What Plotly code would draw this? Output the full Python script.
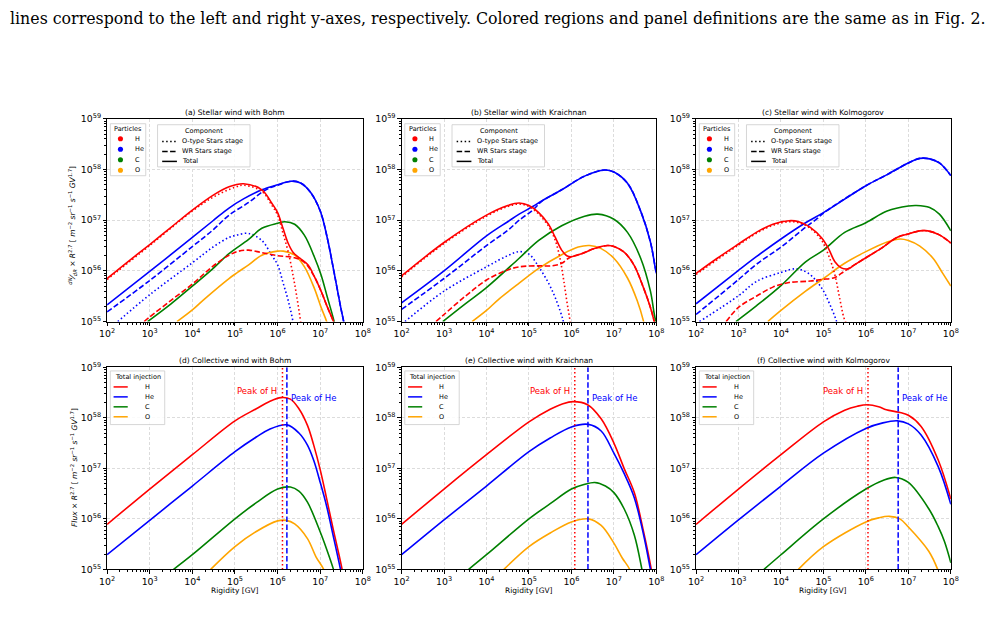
import numpy as np
import plotly.graph_objects as go

# ---------------- DATA (x: log10 Rigidity [GV], y: log10 of flux x R^2.7) ----------------
# (a) Stellar wind with Bohm
a_H_tot_x = [2, 2.5, 3, 3.5, 4, 4.5, 4.86, 5.2, 5.63, 5.86, 6.0, 6.13, 6.25, 6.36, 6.52, 6.71, 6.86, 7.02, 7.17, 7.31, 7.45]
a_H_tot_y = [55.85, 56.19, 56.52, 56.86, 57.2, 57.5, 57.66, 57.72, 57.6, 57.34, 57.15, 56.83, 56.54, 56.37, 56.25, 56.12, 55.89, 55.6, 55.28, 55.0, 54.6]
a_H_O_x = [2, 3, 4, 4.5, 5.0, 5.2, 5.63, 5.86, 6.0, 6.13, 6.25, 6.36, 6.44, 6.54, 6.65]
a_H_O_y = [55.83, 56.5, 57.18, 57.46, 57.65, 57.69, 57.57, 57.3, 57.1, 56.73, 56.37, 55.92, 55.54, 55.0, 54.3]
a_H_WR_x = [2.87, 3, 3.5, 4, 4.45, 4.86, 5.09, 5.32, 5.63, 6.0, 6.4, 6.63, 6.86, 7.02, 7.17, 7.31, 7.45]
a_H_WR_y = [55.0, 55.09, 55.42, 55.74, 56.07, 56.31, 56.39, 56.41, 56.36, 56.3, 56.26, 56.17, 55.89, 55.6, 55.28, 55.0, 54.6]
a_He_tot_x = [2, 3, 4, 4.5, 4.86, 5.2, 5.63, 6.0, 6.32, 6.55, 6.78, 7.0, 7.17, 7.32, 7.48, 7.55, 7.65]
a_He_tot_y = [55.33, 55.99, 56.66, 57.0, 57.24, 57.42, 57.6, 57.7, 57.77, 57.73, 57.54, 57.18, 56.63, 55.99, 55.28, 55.0, 54.5]
a_He_O_x = [2.25, 3, 4, 4.5, 4.86, 5.06, 5.32, 5.63, 5.86, 6.0, 6.13, 6.25, 6.36, 6.45]
a_He_O_y = [55.0, 55.53, 56.16, 56.48, 56.66, 56.71, 56.74, 56.6, 56.31, 56.12, 55.76, 55.41, 55.0, 54.5]
a_He_WR_x = [2, 3, 4, 4.5, 4.86, 5.32, 5.63, 5.85, 6.0, 6.32, 6.55, 6.78, 7.0, 7.17, 7.32, 7.48, 7.55, 7.65]
a_He_WR_y = [55.19, 55.81, 56.48, 56.82, 57.1, 57.35, 57.55, 57.65, 57.69, 57.77, 57.73, 57.54, 57.18, 56.63, 55.99, 55.28, 55.0, 54.5]
a_C_x = [2.95, 3.5, 4, 4.45, 4.86, 5.32, 5.63, 6.0, 6.17, 6.4, 6.63, 6.86, 7.02, 7.17, 7.32, 7.45]
a_C_y = [55.0, 55.35, 55.7, 56.02, 56.34, 56.62, 56.84, 56.94, 56.97, 56.92, 56.7, 56.28, 55.92, 55.47, 55.02, 54.5]
a_O_x = [3.64, 4.0, 4.29, 4.86, 5.06, 5.32, 5.63, 6.0, 6.13, 6.4, 6.63, 6.86, 7.02, 7.15, 7.3]
a_O_y = [55.0, 55.23, 55.45, 55.85, 55.97, 56.12, 56.31, 56.39, 56.39, 56.31, 56.08, 55.66, 55.28, 55.0, 54.5]

# (b) Stellar wind with Kraichnan
b_H_tot_x = [2, 3, 4, 4.5, 4.77, 5.0, 5.23, 5.46, 5.62, 5.77, 5.89, 6.0, 6.24, 6.54, 6.85, 7.0, 7.24, 7.47, 7.7, 7.86, 7.95, 8.0]
b_H_tot_y = [55.9, 56.56, 57.1, 57.29, 57.34, 57.29, 57.15, 56.92, 56.66, 56.41, 56.3, 56.28, 56.34, 56.44, 56.5, 56.48, 56.37, 56.12, 55.66, 55.28, 55.0, 54.8]
b_H_O_x = [2, 3, 4, 4.5, 4.77, 5.0, 5.23, 5.46, 5.62, 5.73, 5.81, 5.89, 5.97, 6.05]
b_H_O_y = [55.88, 56.54, 57.08, 57.27, 57.32, 57.27, 57.12, 56.88, 56.6, 56.25, 55.86, 55.41, 55.0, 54.5]
b_H_WR_x = [2.81, 3, 3.5, 4, 4.47, 4.77, 5.23, 5.54, 5.77, 5.93, 6.0, 6.24, 6.54, 6.85, 7.0, 7.24, 7.47, 7.7, 7.86, 7.95, 8.0]
b_H_WR_y = [55.0, 55.14, 55.5, 55.82, 56.01, 56.08, 56.1, 56.1, 56.15, 56.25, 56.28, 56.34, 56.44, 56.5, 56.48, 56.37, 56.12, 55.66, 55.28, 55.0, 54.8]
b_He_tot_x = [2, 3, 4, 4.5, 4.77, 5.09, 5.3, 5.77, 6.31, 6.78, 7.0, 7.32, 7.63, 7.86, 7.97, 8.0]
b_He_tot_y = [55.37, 56.0, 56.69, 56.97, 57.12, 57.27, 57.38, 57.6, 57.87, 57.99, 57.95, 57.73, 57.18, 56.57, 56.08, 55.95]
b_He_O_x = [2.08, 3, 4, 4.5, 4.77, 5.0, 5.23, 5.46, 5.62, 5.77, 5.81, 5.9]
b_He_O_y = [55.0, 55.6, 56.08, 56.3, 56.38, 56.33, 56.08, 55.76, 55.47, 55.12, 55.0, 54.6]
b_He_WR_x = [2, 3, 4, 4.5, 4.77, 5.09, 5.3, 5.77, 6.31, 6.78, 7.0, 7.32, 7.63, 7.86, 7.97, 8.0]
b_He_WR_y = [55.24, 55.85, 56.5, 56.8, 57.0, 57.2, 57.37, 57.6, 57.87, 57.99, 57.95, 57.73, 57.18, 56.57, 56.08, 55.95]
b_C_x = [2.97, 3.5, 4, 4.77, 5.23, 5.77, 6.31, 6.62, 7.0, 7.32, 7.63, 7.86, 7.95, 8.0]
b_C_y = [55.0, 55.35, 55.67, 56.25, 56.6, 56.89, 57.08, 57.12, 57.02, 56.76, 56.25, 55.6, 55.15, 54.95]
b_O_x = [3.66, 4.0, 4.3, 4.77, 5.23, 5.77, 6.16, 6.43, 6.7, 7.0, 7.32, 7.55, 7.7, 7.8]
b_O_y = [55.0, 55.22, 55.45, 55.76, 56.05, 56.32, 56.47, 56.5, 56.44, 56.25, 55.86, 55.41, 55.0, 54.6]

# (c) Stellar wind with Kolmogorov
c_H_tot_x = [2, 2.5, 3, 3.42, 3.81, 4.19, 4.42, 4.69, 4.96, 5.12, 5.27, 5.42, 5.58, 5.73, 6.0, 6.35, 6.73, 7.0, 7.27, 7.46, 7.73, 8.0]
c_H_tot_y = [55.95, 56.25, 56.53, 56.76, 56.92, 56.99, 56.97, 56.86, 56.65, 56.44, 56.18, 56.06, 56.04, 56.12, 56.26, 56.44, 56.66, 56.73, 56.79, 56.79, 56.71, 56.55]
c_H_O_x = [2, 3, 3.42, 3.81, 4.19, 4.42, 4.69, 4.96, 5.12, 5.27, 5.38, 5.48, 5.52, 5.6]
c_H_O_y = [55.93, 56.51, 56.74, 56.9, 56.97, 56.95, 56.84, 56.6, 56.31, 55.92, 55.47, 55.08, 55.0, 54.6]
c_H_WR_x = [2.71, 3.0, 3.42, 3.81, 4.19, 4.69, 4.96, 5.27, 5.42, 5.58, 5.73, 6.0, 6.35, 6.73, 7.0, 7.27, 7.46, 7.73, 8.0]
c_H_WR_y = [55.0, 55.28, 55.5, 55.68, 55.77, 55.8, 55.83, 55.87, 55.95, 56.04, 56.12, 56.26, 56.44, 56.66, 56.73, 56.79, 56.79, 56.71, 56.55]
c_He_tot_x = [2, 3, 3.42, 4.0, 4.58, 5.0, 6.0, 6.5, 7.0, 7.27, 7.5, 7.73, 8.0]
c_He_tot_y = [55.35, 56.01, 56.28, 56.63, 56.95, 57.15, 57.68, 57.9, 58.13, 58.22, 58.21, 58.13, 57.88]
c_He_O_x = [2.08, 3, 3.42, 4.0, 4.35, 4.65, 4.96, 5.15, 5.31, 5.4]
c_He_O_y = [55.0, 55.51, 55.79, 55.97, 56.04, 55.95, 55.66, 55.34, 55.0, 54.7]
c_He_WR_x = [2, 3, 3.42, 4.0, 4.58, 4.85, 5.0, 6.0, 6.5, 7.0, 7.27, 7.5, 7.73, 8.0]
c_He_WR_y = [55.14, 55.83, 56.13, 56.47, 56.86, 57.03, 57.14, 57.68, 57.9, 58.13, 58.22, 58.21, 58.13, 57.88]
c_C_x = [2.94, 3.42, 4.0, 4.58, 5.0, 5.5, 6.0, 6.5, 7.0, 7.19, 7.5, 7.73, 8.0]
c_C_y = [55.0, 55.31, 55.71, 56.18, 56.41, 56.76, 56.95, 57.18, 57.28, 57.29, 57.25, 57.12, 56.79]
c_O_x = [3.69, 4.0, 4.58, 5.0, 5.5, 6.0, 6.5, 6.81, 7.0, 7.27, 7.58, 7.81, 8.0]
c_O_y = [55.0, 55.22, 55.6, 55.85, 56.15, 56.38, 56.57, 56.63, 56.6, 56.49, 56.25, 55.95, 55.7]

# (d) Collective wind with Bohm
d_H_x = [2, 3, 4, 5, 5.5, 5.8, 6.08, 6.3, 6.5, 6.7, 6.85, 7.0, 7.15, 7.3, 7.45, 7.55]
d_H_y = [55.89, 56.59, 57.27, 57.94, 58.18, 58.32, 58.4, 58.37, 58.18, 57.85, 57.45, 56.97, 56.4, 55.81, 55.25, 54.85]
d_He_x = [2, 3, 4, 5, 5.5, 5.8, 6.22, 6.5, 6.7, 6.85, 7.0, 7.15, 7.3, 7.45, 7.55]
d_He_y = [55.29, 55.97, 56.65, 57.33, 57.62, 57.77, 57.86, 57.7, 57.46, 57.15, 56.72, 56.25, 55.68, 55.1, 54.7]
d_C_x = [3.56, 4, 5, 5.5, 6, 6.3, 6.5, 6.7, 7.0, 7.15, 7.31, 7.4]
d_C_y = [55.0, 55.29, 56.0, 56.32, 56.59, 56.63, 56.55, 56.33, 55.74, 55.4, 55.0, 54.7]
d_O_x = [4.43, 5, 5.5, 6, 6.2, 6.4, 6.7, 6.9, 7.08, 7.2]
d_O_y = [55.0, 55.45, 55.75, 55.96, 55.97, 55.9, 55.61, 55.25, 55.0, 54.7]

# (e) Collective wind with Kraichnan
e_H_x = [2, 3, 4, 5, 5.5, 5.8, 6.04, 6.38, 6.7, 7.0, 7.24, 7.48, 7.7, 7.88, 7.95]
e_H_y = [55.89, 56.59, 57.27, 57.92, 58.17, 58.28, 58.32, 58.26, 57.98, 57.5, 57.0, 56.52, 55.74, 55.0, 54.6]
e_He_x = [2, 3, 4, 5, 5.5, 6.0, 6.4, 6.7, 7.0, 7.24, 7.48, 7.7, 7.86, 7.95]
e_He_y = [55.29, 55.98, 56.65, 57.33, 57.6, 57.82, 57.87, 57.74, 57.3, 56.9, 56.42, 55.68, 55.0, 54.6]
e_C_x = [3.58, 4, 5, 5.5, 6, 6.3, 6.55, 6.8, 7.0, 7.24, 7.48, 7.66, 7.75]
e_C_y = [55.0, 55.29, 56.0, 56.3, 56.59, 56.68, 56.72, 56.65, 56.52, 56.2, 55.68, 55.0, 54.6]
e_O_x = [4.41, 5, 5.5, 6, 6.4, 6.7, 7.0, 7.2, 7.37, 7.45]
e_O_y = [55.0, 55.45, 55.72, 55.94, 56.0, 55.87, 55.52, 55.22, 55.0, 54.7]

# (f) Collective wind with Kolmogorov
f_H_x = [2, 3, 4, 5, 5.5, 5.8, 6.04, 6.3, 6.48, 6.78, 7.0, 7.3, 7.7, 8.0]
f_H_y = [55.89, 56.59, 57.27, 57.92, 58.15, 58.23, 58.26, 58.22, 58.16, 58.11, 58.05, 57.83, 57.17, 56.39]
f_He_x = [2, 3, 4, 5, 6, 6.4, 6.74, 7.0, 7.3, 7.7, 8.0]
f_He_y = [55.29, 55.98, 56.65, 57.3, 57.79, 57.9, 57.94, 57.88, 57.66, 57.04, 56.29]
f_C_x = [3.6, 4, 5, 6, 6.4, 6.7, 7.0, 7.48, 7.7, 7.85, 8.0]
f_C_y = [55.0, 55.29, 56.0, 56.59, 56.76, 56.82, 56.72, 56.2, 55.85, 55.55, 55.13]
f_O_x = [4.41, 5, 6, 6.3, 6.55, 6.8, 7.0, 7.48, 7.69, 7.8]
f_O_y = [55.0, 55.45, 55.94, 56.02, 56.05, 56.0, 55.84, 55.36, 55.0, 54.7]

# Peak rigidities marked in the collective-wind panels (GV)
PEAK_H = [1.3e6, 1.2e6, 1.12e6]
PEAK_HE = [1.65e6, 2.45e6, 5.75e6]

TITLES = ["(a) Stellar wind with Bohm", "(b) Stellar wind with Kraichnan", "(c) Stellar wind with Kolmogorov",
          "(d) Collective wind with Bohm", "(e) Collective wind with Kraichnan", "(f) Collective wind with Kolmogorov"]
SPECIES = ["H", "He", "C", "O"]
COLORS = {"H": "red", "He": "blue", "C": "green", "O": "orange"}
COMPONENTS = ["O-type Stars stage", "WR Stars stage", "Total"]
CAPTION = ("lines correspond to the left and right y-axes, respectively. Colored regions and panel "
           "definitions are the same as in Fig. 2.")

# ---------------- LAYOUT GEOMETRY (pixels) ----------------
FW, FH = 992, 630
PANELS = [(100.7, 114, 360.7, 320.7), (400, 114, 659, 320.7), (699.3, 114, 958.3, 320.7),
          (100.7, 367.3, 360.7, 573.3), (400, 367.3, 659, 573.3), (699.3, 367.3, 958.3, 573.3)]
FONT = "DejaVu Sans"
DOT = "1.5px,2.5px"
DASH = "5.5px,2.4px"

fig = go.Figure()


def axn(i):
    return ("x", "y") if i == 0 else (f"x{i+1}", f"y{i+1}")


def add_line(i, xs, ys, color, dash="solid", width=1.6):
    xa, ya = axn(i)
    fig.add_trace(go.Scatter(
        x=np.power(10.0, np.array(xs)), y=np.power(10.0, np.array(ys)), mode="lines",
        line=dict(color=color, width=width, dash=dash, shape="spline", smoothing=1.0),
        xaxis=xa, yaxis=ya, hoverinfo="skip", showlegend=False))


stellar = [
    (a_H_tot_x, a_H_tot_y, a_H_O_x, a_H_O_y, a_H_WR_x, a_H_WR_y,
     a_He_tot_x, a_He_tot_y, a_He_O_x, a_He_O_y, a_He_WR_x, a_He_WR_y, a_C_x, a_C_y, a_O_x, a_O_y),
    (b_H_tot_x, b_H_tot_y, b_H_O_x, b_H_O_y, b_H_WR_x, b_H_WR_y,
     b_He_tot_x, b_He_tot_y, b_He_O_x, b_He_O_y, b_He_WR_x, b_He_WR_y, b_C_x, b_C_y, b_O_x, b_O_y),
    (c_H_tot_x, c_H_tot_y, c_H_O_x, c_H_O_y, c_H_WR_x, c_H_WR_y,
     c_He_tot_x, c_He_tot_y, c_He_O_x, c_He_O_y, c_He_WR_x, c_He_WR_y, c_C_x, c_C_y, c_O_x, c_O_y),
]
for i, s in enumerate(stellar):
    (Htx, Hty, Hox, Hoy, Hwx, Hwy, Etx, Ety, Eox, Eoy, Ewx, Ewy, Cx, Cy, Ox, Oy) = s
    add_line(i, Etx, Ety, "blue")
    add_line(i, Ewx, Ewy, "blue", DASH)
    add_line(i, Eox, Eoy, "blue", DOT)
    add_line(i, Cx, Cy, "green")
    add_line(i, Ox, Oy, "orange")
    add_line(i, Htx, Hty, "red")
    add_line(i, Hwx, Hwy, "red", DASH)
    add_line(i, Hox, Hoy, "red", DOT)

collective = [
    (d_H_x, d_H_y, d_He_x, d_He_y, d_C_x, d_C_y, d_O_x, d_O_y),
    (e_H_x, e_H_y, e_He_x, e_He_y, e_C_x, e_C_y, e_O_x, e_O_y),
    (f_H_x, f_H_y, f_He_x, f_He_y, f_C_x, f_C_y, f_O_x, f_O_y),
]
for k, s in enumerate(collective):
    i = k + 3
    Hx, Hy, Ex, Ey, Cx, Cy, Ox, Oy = s
    add_line(i, Hx, Hy, "red")
    add_line(i, Ex, Ey, "blue")
    add_line(i, Cx, Cy, "green")
    add_line(i, Ox, Oy, "orange")
    xa, ya = axn(i)
    fig.add_trace(go.Scatter(x=[PEAK_H[k], PEAK_H[k]], y=[1e55, 1e59], mode="lines",
                             line=dict(color="red", width=1.5, dash=DOT),
                             xaxis=xa, yaxis=ya, hoverinfo="skip", showlegend=False))
    fig.add_trace(go.Scatter(x=[PEAK_HE[k], PEAK_HE[k]], y=[1e55, 1e59], mode="lines",
                             line=dict(color="blue", width=1.5, dash=DASH),
                             xaxis=xa, yaxis=ya, hoverinfo="skip", showlegend=False))

# ---------------- AXES ----------------
layout = dict(width=FW, height=FH, margin=dict(l=0, r=0, t=0, b=0),
              paper_bgcolor="white", plot_bgcolor="white", showlegend=False,
              font=dict(family=FONT, color="black"))
common = dict(type="log", dtick=1, exponentformat="power", showgrid=True, gridcolor="#dcdcdc",
              griddash="3px,2px", gridwidth=0.8, showline=True, linecolor="black", linewidth=1,
              mirror=True, ticks="outside", ticklen=3.5, tickwidth=0.8, tickcolor="black",
              tickfont=dict(size=7.5, color="black", family=FONT), zeroline=False,
              minor=dict(ticks="outside", ticklen=2, tickwidth=0.6, tickcolor="black",
                         dtick="D1", showgrid=False))
for i, (l, t, r, b) in enumerate(PANELS):
    xa, ya = axn(i)
    xk = "xaxis" if i == 0 else f"xaxis{i+1}"
    yk = "yaxis" if i == 0 else f"yaxis{i+1}"
    layout[xk] = dict(common, domain=[l / FW, r / FW], anchor=ya, range=[2, 8])
    layout[yk] = dict(common, domain=[1 - b / FH, 1 - t / FH], anchor=xa, range=[55, 59])
fig.update_layout(**layout)

shapes, annos = [], []


def dom(i, rx, ry):
    l, t, r, b = PANELS[i]
    return rx / (r - l), 1 - ry / (b - t)


def refs(i):
    xa, ya = axn(i)
    return f"{xa} domain", f"{ya} domain"


def box(i, rx0, ry0, rx1, ry1):
    xr, yr = refs(i)
    x0, y1 = dom(i, rx0, ry0)
    x1, y0 = dom(i, rx1, ry1)
    shapes.append(dict(type="rect", xref=xr, yref=yr, x0=x0, x1=x1, y0=y0, y1=y1,
                       line=dict(color="#cccccc", width=0.8), fillcolor="rgba(255,255,255,0.85)", layer="above"))


def text(i, rx, ry, s, anchor="left", size=6.5, color="black"):
    xr, yr = refs(i)
    x, y = dom(i, rx, ry)
    annos.append(dict(xref=xr, yref=yr, x=x, y=y, text=s, showarrow=False, xanchor=anchor,
                      yanchor="middle", font=dict(size=size, color=color, family=FONT)))


def hline(i, rx0, rx1, ry, color, dash, width=1.5):
    xr, yr = refs(i)
    x0, y = dom(i, rx0, ry)
    x1, _ = dom(i, rx1, ry)
    shapes.append(dict(type="line", xref=xr, yref=yr, x0=x0, x1=x1, y0=y, y1=y,
                       line=dict(color=color, width=width, dash=dash), layer="above"))


def dot(i, rx, ry, color, rad=2.6):
    xr, yr = refs(i)
    x0, y1 = dom(i, rx - rad, ry - rad)
    x1, y0 = dom(i, rx + rad, ry + rad)
    shapes.append(dict(type="circle", xref=xr, yref=yr, x0=x0, x1=x1, y0=y0, y1=y1,
                       line=dict(color=color, width=0), fillcolor=color, layer="above"))


for i in range(3):
    box(i, 3.3, 5, 39.3, 58)
    text(i, 21.3, 10.3, "Particles", anchor="center")
    for j, sp in enumerate(SPECIES):
        yy = 20.3 + j * 10.7
        dot(i, 13.6, yy, COLORS[sp])
        text(i, 26.3, yy, sp)
    box(i, 51.3, 6, 145.3, 49)
    text(i, 98.6, 12.7, "Component", anchor="center")
    for j, (nm, ds) in enumerate(zip(COMPONENTS, [DOT, DASH, "solid"])):
        yy = 23 + j * 10.2
        hline(i, 56, 71, yy, "black", ds)
        text(i, 74.5, yy, nm)

for k in range(3):
    i = k + 3
    box(i, 3.3, 3.7, 58.6, 58.4)
    text(i, 31, 9.4, "Total injection", anchor="center")
    for j, sp in enumerate(SPECIES):
        yy = 20 + j * 10.15
        hline(i, 6.6, 21, yy, COLORS[sp], "solid")
        text(i, 36.3, yy, sp)
    xa, ya = axn(i)
    annos.append(dict(xref=xa, yref=f"{ya} domain", x=np.log10(PEAK_H[k]), y=0.885, text="Peak of H",
                      showarrow=False, xanchor="right", yanchor="middle", xshift=-3,
                      font=dict(size=8.5, color="red", family=FONT)))
    annos.append(dict(xref=xa, yref=f"{ya} domain", x=np.log10(PEAK_HE[k]), y=0.85, text="Peak of He",
                      showarrow=False, xanchor="left", yanchor="middle", xshift=2,
                      font=dict(size=8.5, color="blue", family=FONT)))

for i, (l, t, r, b) in enumerate(PANELS):
    annos.append(dict(xref="paper", yref="paper", x=(l + r) / 2 / FW, y=1 - (t - 6.5) / FH, text=TITLES[i],
                      showarrow=False, xanchor="center", yanchor="middle",
                      font=dict(size=7.5, color="black", family=FONT)))
    if i >= 3:
        annos.append(dict(xref="paper", yref="paper", x=(l + r) / 2 / FW, y=1 - 594.5 / FH, text="Rigidity [GV]",
                          showarrow=False, xanchor="center", yanchor="middle",
                          font=dict(size=7.5, color="black", family=FONT)))

ylab_top = ("<i><sup>dN</sup>⁄<sub>dR</sub></i> × <i>R</i><sup>2.7</sup> [ <i>m</i><sup>−2</sup> "
            "<i>sr</i><sup>−1</sup> <i>s</i><sup>−1</sup> <i>GV</i><sup>1.7</sup>]")
ylab_bot = ("<i>Flux</i> × <i>R</i><sup>2.7</sup> [ <i>m</i><sup>−2</sup> "
            "<i>sr</i><sup>−1</sup> <i>s</i><sup>−1</sup> <i>GV</i><sup>1.7</sup>]")
annos.append(dict(xref="paper", yref="paper", x=66 / FW, y=1 - 222 / FH, text=ylab_top, textangle=-90,
                  showarrow=False, xanchor="center", yanchor="middle",
                  font=dict(size=7.5, color="black", family=FONT)))
annos.append(dict(xref="paper", yref="paper", x=67 / FW, y=1 - 469 / FH, text=ylab_bot, textangle=-90,
                  showarrow=False, xanchor="center", yanchor="middle",
                  font=dict(size=7.5, color="black", family=FONT)))

annos.append(dict(xref="paper", yref="paper", x=0, y=1 - 12 / FH, text=CAPTION, showarrow=False,
                  xanchor="left", yanchor="middle", font=dict(size=15.8, color="black", family="DejaVu Serif")))

fig.update_layout(shapes=shapes, annotations=annos)
fig.write_html("out.html")
